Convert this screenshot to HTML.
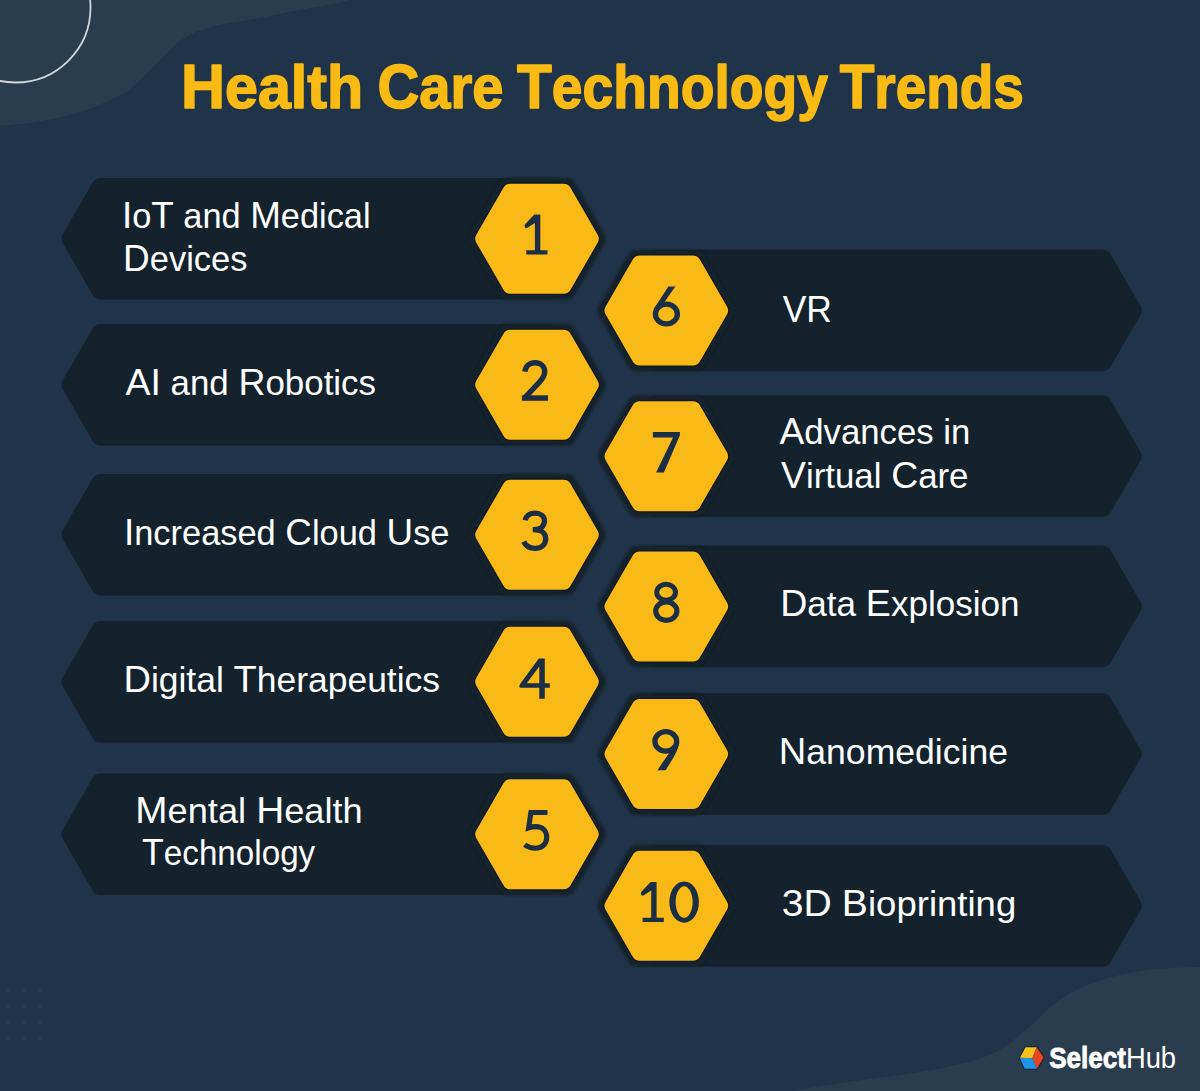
<!DOCTYPE html>
<html><head><meta charset="utf-8"><title>Health Care Technology Trends</title>
<style>
html,body{margin:0;padding:0;background:#1f3349;}
body{width:1200px;height:1091px;overflow:hidden;}
svg{display:block;font-family:"Liberation Sans",sans-serif;}
</style></head><body>
<svg width="1200" height="1091" viewBox="0 0 1200 1091">
<rect width="1200" height="1091" fill="#1f3349"/>
<path d="M0.00 125.80 C5.55 125.25 22.18 124.17 33.30 122.50 C44.42 120.83 56.97 118.17 66.70 115.80 C76.43 113.43 84.48 110.93 91.70 108.30 C98.92 105.67 104.17 102.80 110.00 100.00 C115.83 97.20 121.70 94.83 126.70 91.50 C131.70 88.17 135.57 84.13 140.00 80.00 C144.43 75.87 149.13 70.87 153.30 66.70 C157.47 62.53 161.67 58.33 165.00 55.00 C168.33 51.67 170.52 49.20 173.30 46.70 C176.08 44.20 178.92 41.95 181.70 40.00 C184.48 38.05 187.23 36.53 190.00 35.00 C192.77 33.47 195.52 31.92 198.30 30.80 C201.08 29.68 203.92 29.13 206.70 28.30 C209.48 27.47 211.53 26.63 215.00 25.80 C218.47 24.97 223.33 24.05 227.50 23.30 C231.67 22.55 235.83 21.97 240.00 21.30 C244.17 20.63 248.33 20.02 252.50 19.30 C256.67 18.58 260.08 17.97 265.00 17.00 C269.92 16.03 276.17 14.67 282.00 13.50 C287.83 12.33 292.00 11.50 300.00 10.00 C308.00 8.50 320.67 6.33 330.00 4.50 C339.33 2.67 351.67 -0.08 356.00 -1.00 L0 0 Z" fill="#293d4f"/>
<circle cx="15.5" cy="7.5" r="75" fill="none" stroke="#d0d8df" stroke-width="1.8"/>
<path d="M1200.00 966.70 C1194.45 966.97 1176.42 967.62 1166.70 968.30 C1156.98 968.98 1150.03 969.55 1141.70 970.80 C1133.37 972.05 1124.20 973.98 1116.70 975.80 C1109.20 977.62 1102.82 979.62 1096.70 981.70 C1090.58 983.78 1085.00 985.95 1080.00 988.30 C1075.00 990.65 1070.87 993.30 1066.70 995.80 C1062.53 998.30 1058.62 1000.65 1055.00 1003.30 C1051.38 1005.95 1048.05 1008.92 1045.00 1011.70 C1041.95 1014.48 1039.48 1017.32 1036.70 1020.00 C1033.92 1022.68 1030.92 1025.47 1028.30 1027.80 C1025.68 1030.13 1024.13 1031.38 1021.00 1034.00 C1017.87 1036.62 1013.42 1040.67 1009.50 1043.50 C1005.58 1046.33 1001.75 1048.75 997.50 1051.00 C993.25 1053.25 989.00 1055.12 984.00 1057.00 C979.00 1058.88 974.00 1060.50 967.50 1062.25 C961.00 1064.00 952.50 1066.00 945.00 1067.50 C937.50 1069.00 930.00 1070.00 922.50 1071.25 C915.00 1072.50 907.50 1073.88 900.00 1075.00 C892.50 1076.12 885.00 1077.00 877.50 1078.00 C870.00 1079.00 861.25 1080.12 855.00 1081.00 C848.75 1081.88 845.55 1082.42 840.00 1083.25 C834.45 1084.08 828.23 1084.97 821.70 1086.00 C815.17 1087.03 806.08 1088.48 800.80 1089.40 C795.52 1090.32 791.80 1091.15 790.00 1091.50 L1200 1091.5 Z" fill="#293d4f"/>
<circle cx="8" cy="990" r="2.5" fill="#2a4255" opacity="0.5"/>
<circle cx="24" cy="990" r="2.5" fill="#2a4255" opacity="0.5"/>
<circle cx="40" cy="990" r="2.5" fill="#2a4255" opacity="0.5"/>
<circle cx="8" cy="1006" r="2.5" fill="#2a4255" opacity="0.5"/>
<circle cx="24" cy="1006" r="2.5" fill="#2a4255" opacity="0.5"/>
<circle cx="40" cy="1006" r="2.5" fill="#2a4255" opacity="0.5"/>
<circle cx="8" cy="1022" r="2.5" fill="#2a4255" opacity="0.5"/>
<circle cx="24" cy="1022" r="2.5" fill="#2a4255" opacity="0.5"/>
<circle cx="40" cy="1022" r="2.5" fill="#2a4255" opacity="0.5"/>
<circle cx="8" cy="1038" r="2.5" fill="#2a4255" opacity="0.5"/>
<circle cx="24" cy="1038" r="2.5" fill="#2a4255" opacity="0.5"/>
<circle cx="40" cy="1038" r="2.5" fill="#2a4255" opacity="0.5"/>
<defs><filter id="sh" x="-20%" y="-20%" width="140%" height="140%"><feGaussianBlur stdDeviation="1.00"/></filter></defs>
<path d="M62.80 243.20A9.00 9.00 0 0 1 62.80 234.20L92.68 182.45A9.00 9.00 0 0 1 100.47 177.95L548.00 177.95A9.00 9.00 0 0 1 557.00 186.95L557.00 290.45A9.00 9.00 0 0 1 548.00 299.45L100.47 299.45A9.00 9.00 0 0 1 92.68 294.95Z" fill="#13222c"/>
<path d="M469.89 243.70A10.00 10.00 0 0 1 469.89 233.70L499.19 182.95A10.00 10.00 0 0 1 507.85 177.95L566.15 177.95A10.00 10.00 0 0 1 574.81 182.95L604.11 233.70A10.00 10.00 0 0 1 604.11 243.70L574.81 294.45A10.00 10.00 0 0 1 566.15 299.45L507.85 299.45A10.00 10.00 0 0 1 499.19 294.45Z" fill="#12212a" filter="url(#sh)"/>
<path d="M62.80 389.20A9.00 9.00 0 0 1 62.80 380.20L92.68 328.45A9.00 9.00 0 0 1 100.47 323.95L548.00 323.95A9.00 9.00 0 0 1 557.00 332.95L557.00 436.45A9.00 9.00 0 0 1 548.00 445.45L100.47 445.45A9.00 9.00 0 0 1 92.68 440.95Z" fill="#13222c"/>
<path d="M469.89 389.70A10.00 10.00 0 0 1 469.89 379.70L499.19 328.95A10.00 10.00 0 0 1 507.85 323.95L566.15 323.95A10.00 10.00 0 0 1 574.81 328.95L604.11 379.70A10.00 10.00 0 0 1 604.11 389.70L574.81 440.45A10.00 10.00 0 0 1 566.15 445.45L507.85 445.45A10.00 10.00 0 0 1 499.19 440.45Z" fill="#12212a" filter="url(#sh)"/>
<path d="M62.80 539.20A9.00 9.00 0 0 1 62.80 530.20L92.68 478.45A9.00 9.00 0 0 1 100.47 473.95L548.00 473.95A9.00 9.00 0 0 1 557.00 482.95L557.00 586.45A9.00 9.00 0 0 1 548.00 595.45L100.47 595.45A9.00 9.00 0 0 1 92.68 590.95Z" fill="#13222c"/>
<path d="M469.89 539.70A10.00 10.00 0 0 1 469.89 529.70L499.19 478.95A10.00 10.00 0 0 1 507.85 473.95L566.15 473.95A10.00 10.00 0 0 1 574.81 478.95L604.11 529.70A10.00 10.00 0 0 1 604.11 539.70L574.81 590.45A10.00 10.00 0 0 1 566.15 595.45L507.85 595.45A10.00 10.00 0 0 1 499.19 590.45Z" fill="#12212a" filter="url(#sh)"/>
<path d="M62.80 686.30A9.00 9.00 0 0 1 62.80 677.30L92.68 625.55A9.00 9.00 0 0 1 100.47 621.05L548.00 621.05A9.00 9.00 0 0 1 557.00 630.05L557.00 733.55A9.00 9.00 0 0 1 548.00 742.55L100.47 742.55A9.00 9.00 0 0 1 92.68 738.05Z" fill="#13222c"/>
<path d="M469.89 686.80A10.00 10.00 0 0 1 469.89 676.80L499.19 626.05A10.00 10.00 0 0 1 507.85 621.05L566.15 621.05A10.00 10.00 0 0 1 574.81 626.05L604.11 676.80A10.00 10.00 0 0 1 604.11 686.80L574.81 737.55A10.00 10.00 0 0 1 566.15 742.55L507.85 742.55A10.00 10.00 0 0 1 499.19 737.55Z" fill="#12212a" filter="url(#sh)"/>
<path d="M62.80 838.70A9.00 9.00 0 0 1 62.80 829.70L92.68 777.95A9.00 9.00 0 0 1 100.47 773.45L548.00 773.45A9.00 9.00 0 0 1 557.00 782.45L557.00 885.95A9.00 9.00 0 0 1 548.00 894.95L100.47 894.95A9.00 9.00 0 0 1 92.68 890.45Z" fill="#13222c"/>
<path d="M469.89 839.20A10.00 10.00 0 0 1 469.89 829.20L499.19 778.45A10.00 10.00 0 0 1 507.85 773.45L566.15 773.45A10.00 10.00 0 0 1 574.81 778.45L604.11 829.20A10.00 10.00 0 0 1 604.11 839.20L574.81 889.95A10.00 10.00 0 0 1 566.15 894.95L507.85 894.95A10.00 10.00 0 0 1 499.19 889.95Z" fill="#12212a" filter="url(#sh)"/>
<path d="M646.30 258.75A9.00 9.00 0 0 1 655.30 249.75L1102.73 249.75A9.00 9.00 0 0 1 1110.52 254.25L1140.40 306.00A9.00 9.00 0 0 1 1140.40 315.00L1110.52 366.75A9.00 9.00 0 0 1 1102.73 371.25L655.30 371.25A9.00 9.00 0 0 1 646.30 362.25Z" fill="#13222c"/>
<path d="M599.19 315.50A10.00 10.00 0 0 1 599.19 305.50L628.49 254.75A10.00 10.00 0 0 1 637.15 249.75L695.45 249.75A10.00 10.00 0 0 1 704.11 254.75L733.41 305.50A10.00 10.00 0 0 1 733.41 315.50L704.11 366.25A10.00 10.00 0 0 1 695.45 371.25L637.15 371.25A10.00 10.00 0 0 1 628.49 366.25Z" fill="#12212a" filter="url(#sh)"/>
<path d="M646.30 404.45A9.00 9.00 0 0 1 655.30 395.45L1102.73 395.45A9.00 9.00 0 0 1 1110.52 399.95L1140.40 451.70A9.00 9.00 0 0 1 1140.40 460.70L1110.52 512.45A9.00 9.00 0 0 1 1102.73 516.95L655.30 516.95A9.00 9.00 0 0 1 646.30 507.95Z" fill="#13222c"/>
<path d="M599.19 461.20A10.00 10.00 0 0 1 599.19 451.20L628.49 400.45A10.00 10.00 0 0 1 637.15 395.45L695.45 395.45A10.00 10.00 0 0 1 704.11 400.45L733.41 451.20A10.00 10.00 0 0 1 733.41 461.20L704.11 511.95A10.00 10.00 0 0 1 695.45 516.95L637.15 516.95A10.00 10.00 0 0 1 628.49 511.95Z" fill="#12212a" filter="url(#sh)"/>
<path d="M646.30 554.65A9.00 9.00 0 0 1 655.30 545.65L1102.73 545.65A9.00 9.00 0 0 1 1110.52 550.15L1140.40 601.90A9.00 9.00 0 0 1 1140.40 610.90L1110.52 662.65A9.00 9.00 0 0 1 1102.73 667.15L655.30 667.15A9.00 9.00 0 0 1 646.30 658.15Z" fill="#13222c"/>
<path d="M599.19 611.40A10.00 10.00 0 0 1 599.19 601.40L628.49 550.65A10.00 10.00 0 0 1 637.15 545.65L695.45 545.65A10.00 10.00 0 0 1 704.11 550.65L733.41 601.40A10.00 10.00 0 0 1 733.41 611.40L704.11 662.15A10.00 10.00 0 0 1 695.45 667.15L637.15 667.15A10.00 10.00 0 0 1 628.49 662.15Z" fill="#12212a" filter="url(#sh)"/>
<path d="M646.30 702.25A9.00 9.00 0 0 1 655.30 693.25L1102.73 693.25A9.00 9.00 0 0 1 1110.52 697.75L1140.40 749.50A9.00 9.00 0 0 1 1140.40 758.50L1110.52 810.25A9.00 9.00 0 0 1 1102.73 814.75L655.30 814.75A9.00 9.00 0 0 1 646.30 805.75Z" fill="#13222c"/>
<path d="M599.19 759.00A10.00 10.00 0 0 1 599.19 749.00L628.49 698.25A10.00 10.00 0 0 1 637.15 693.25L695.45 693.25A10.00 10.00 0 0 1 704.11 698.25L733.41 749.00A10.00 10.00 0 0 1 733.41 759.00L704.11 809.75A10.00 10.00 0 0 1 695.45 814.75L637.15 814.75A10.00 10.00 0 0 1 628.49 809.75Z" fill="#12212a" filter="url(#sh)"/>
<path d="M646.30 854.05A9.00 9.00 0 0 1 655.30 845.05L1102.73 845.05A9.00 9.00 0 0 1 1110.52 849.55L1140.40 901.30A9.00 9.00 0 0 1 1140.40 910.30L1110.52 962.05A9.00 9.00 0 0 1 1102.73 966.55L655.30 966.55A9.00 9.00 0 0 1 646.30 957.55Z" fill="#13222c"/>
<path d="M599.19 910.80A10.00 10.00 0 0 1 599.19 900.80L628.49 850.05A10.00 10.00 0 0 1 637.15 845.05L695.45 845.05A10.00 10.00 0 0 1 704.11 850.05L733.41 900.80A10.00 10.00 0 0 1 733.41 910.80L704.11 961.55A10.00 10.00 0 0 1 695.45 966.55L637.15 966.55A10.00 10.00 0 0 1 628.49 961.55Z" fill="#12212a" filter="url(#sh)"/>
<path d="M475.45 243.20A9.00 9.00 0 0 1 475.45 234.20L502.58 187.20A9.00 9.00 0 0 1 510.38 182.70L563.62 182.70A9.00 9.00 0 0 1 571.42 187.20L598.55 234.20A9.00 9.00 0 0 1 598.55 243.20L571.42 290.20A9.00 9.00 0 0 1 563.62 294.70L510.38 294.70A9.00 9.00 0 0 1 502.58 290.20Z" fill="#0a1319" opacity="0.75"/>
<path d="M475.45 389.20A9.00 9.00 0 0 1 475.45 380.20L502.58 333.20A9.00 9.00 0 0 1 510.38 328.70L563.62 328.70A9.00 9.00 0 0 1 571.42 333.20L598.55 380.20A9.00 9.00 0 0 1 598.55 389.20L571.42 436.20A9.00 9.00 0 0 1 563.62 440.70L510.38 440.70A9.00 9.00 0 0 1 502.58 436.20Z" fill="#0a1319" opacity="0.75"/>
<path d="M475.45 539.20A9.00 9.00 0 0 1 475.45 530.20L502.58 483.20A9.00 9.00 0 0 1 510.38 478.70L563.62 478.70A9.00 9.00 0 0 1 571.42 483.20L598.55 530.20A9.00 9.00 0 0 1 598.55 539.20L571.42 586.20A9.00 9.00 0 0 1 563.62 590.70L510.38 590.70A9.00 9.00 0 0 1 502.58 586.20Z" fill="#0a1319" opacity="0.75"/>
<path d="M475.45 686.30A9.00 9.00 0 0 1 475.45 677.30L502.58 630.30A9.00 9.00 0 0 1 510.38 625.80L563.62 625.80A9.00 9.00 0 0 1 571.42 630.30L598.55 677.30A9.00 9.00 0 0 1 598.55 686.30L571.42 733.30A9.00 9.00 0 0 1 563.62 737.80L510.38 737.80A9.00 9.00 0 0 1 502.58 733.30Z" fill="#0a1319" opacity="0.75"/>
<path d="M475.45 838.70A9.00 9.00 0 0 1 475.45 829.70L502.58 782.70A9.00 9.00 0 0 1 510.38 778.20L563.62 778.20A9.00 9.00 0 0 1 571.42 782.70L598.55 829.70A9.00 9.00 0 0 1 598.55 838.70L571.42 885.70A9.00 9.00 0 0 1 563.62 890.20L510.38 890.20A9.00 9.00 0 0 1 502.58 885.70Z" fill="#0a1319" opacity="0.75"/>
<path d="M604.75 315.00A9.00 9.00 0 0 1 604.75 306.00L631.88 259.00A9.00 9.00 0 0 1 639.68 254.50L692.92 254.50A9.00 9.00 0 0 1 700.72 259.00L727.85 306.00A9.00 9.00 0 0 1 727.85 315.00L700.72 362.00A9.00 9.00 0 0 1 692.92 366.50L639.68 366.50A9.00 9.00 0 0 1 631.88 362.00Z" fill="#0a1319" opacity="0.75"/>
<path d="M604.75 460.70A9.00 9.00 0 0 1 604.75 451.70L631.88 404.70A9.00 9.00 0 0 1 639.68 400.20L692.92 400.20A9.00 9.00 0 0 1 700.72 404.70L727.85 451.70A9.00 9.00 0 0 1 727.85 460.70L700.72 507.70A9.00 9.00 0 0 1 692.92 512.20L639.68 512.20A9.00 9.00 0 0 1 631.88 507.70Z" fill="#0a1319" opacity="0.75"/>
<path d="M604.75 610.90A9.00 9.00 0 0 1 604.75 601.90L631.88 554.90A9.00 9.00 0 0 1 639.68 550.40L692.92 550.40A9.00 9.00 0 0 1 700.72 554.90L727.85 601.90A9.00 9.00 0 0 1 727.85 610.90L700.72 657.90A9.00 9.00 0 0 1 692.92 662.40L639.68 662.40A9.00 9.00 0 0 1 631.88 657.90Z" fill="#0a1319" opacity="0.75"/>
<path d="M604.75 758.50A9.00 9.00 0 0 1 604.75 749.50L631.88 702.50A9.00 9.00 0 0 1 639.68 698.00L692.92 698.00A9.00 9.00 0 0 1 700.72 702.50L727.85 749.50A9.00 9.00 0 0 1 727.85 758.50L700.72 805.50A9.00 9.00 0 0 1 692.92 810.00L639.68 810.00A9.00 9.00 0 0 1 631.88 805.50Z" fill="#0a1319" opacity="0.75"/>
<path d="M604.75 910.30A9.00 9.00 0 0 1 604.75 901.30L631.88 854.30A9.00 9.00 0 0 1 639.68 849.80L692.92 849.80A9.00 9.00 0 0 1 700.72 854.30L727.85 901.30A9.00 9.00 0 0 1 727.85 910.30L700.72 957.30A9.00 9.00 0 0 1 692.92 961.80L639.68 961.80A9.00 9.00 0 0 1 631.88 957.30Z" fill="#0a1319" opacity="0.75"/>
<path d="M476.31 242.70A8.00 8.00 0 0 1 476.31 234.70L503.44 187.70A8.00 8.00 0 0 1 510.37 183.70L563.63 183.70A8.00 8.00 0 0 1 570.56 187.70L597.69 234.70A8.00 8.00 0 0 1 597.69 242.70L570.56 289.70A8.00 8.00 0 0 1 563.63 293.70L510.37 293.70A8.00 8.00 0 0 1 503.44 289.70Z" fill="#f9b917"/>
<path d="M476.31 388.70A8.00 8.00 0 0 1 476.31 380.70L503.44 333.70A8.00 8.00 0 0 1 510.37 329.70L563.63 329.70A8.00 8.00 0 0 1 570.56 333.70L597.69 380.70A8.00 8.00 0 0 1 597.69 388.70L570.56 435.70A8.00 8.00 0 0 1 563.63 439.70L510.37 439.70A8.00 8.00 0 0 1 503.44 435.70Z" fill="#f9b917"/>
<path d="M476.31 538.70A8.00 8.00 0 0 1 476.31 530.70L503.44 483.70A8.00 8.00 0 0 1 510.37 479.70L563.63 479.70A8.00 8.00 0 0 1 570.56 483.70L597.69 530.70A8.00 8.00 0 0 1 597.69 538.70L570.56 585.70A8.00 8.00 0 0 1 563.63 589.70L510.37 589.70A8.00 8.00 0 0 1 503.44 585.70Z" fill="#f9b917"/>
<path d="M476.31 685.80A8.00 8.00 0 0 1 476.31 677.80L503.44 630.80A8.00 8.00 0 0 1 510.37 626.80L563.63 626.80A8.00 8.00 0 0 1 570.56 630.80L597.69 677.80A8.00 8.00 0 0 1 597.69 685.80L570.56 732.80A8.00 8.00 0 0 1 563.63 736.80L510.37 736.80A8.00 8.00 0 0 1 503.44 732.80Z" fill="#f9b917"/>
<path d="M476.31 838.20A8.00 8.00 0 0 1 476.31 830.20L503.44 783.20A8.00 8.00 0 0 1 510.37 779.20L563.63 779.20A8.00 8.00 0 0 1 570.56 783.20L597.69 830.20A8.00 8.00 0 0 1 597.69 838.20L570.56 885.20A8.00 8.00 0 0 1 563.63 889.20L510.37 889.20A8.00 8.00 0 0 1 503.44 885.20Z" fill="#f9b917"/>
<path d="M605.61 314.50A8.00 8.00 0 0 1 605.61 306.50L632.74 259.50A8.00 8.00 0 0 1 639.67 255.50L692.93 255.50A8.00 8.00 0 0 1 699.86 259.50L726.99 306.50A8.00 8.00 0 0 1 726.99 314.50L699.86 361.50A8.00 8.00 0 0 1 692.93 365.50L639.67 365.50A8.00 8.00 0 0 1 632.74 361.50Z" fill="#f9b917"/>
<path d="M605.61 460.20A8.00 8.00 0 0 1 605.61 452.20L632.74 405.20A8.00 8.00 0 0 1 639.67 401.20L692.93 401.20A8.00 8.00 0 0 1 699.86 405.20L726.99 452.20A8.00 8.00 0 0 1 726.99 460.20L699.86 507.20A8.00 8.00 0 0 1 692.93 511.20L639.67 511.20A8.00 8.00 0 0 1 632.74 507.20Z" fill="#f9b917"/>
<path d="M605.61 610.40A8.00 8.00 0 0 1 605.61 602.40L632.74 555.40A8.00 8.00 0 0 1 639.67 551.40L692.93 551.40A8.00 8.00 0 0 1 699.86 555.40L726.99 602.40A8.00 8.00 0 0 1 726.99 610.40L699.86 657.40A8.00 8.00 0 0 1 692.93 661.40L639.67 661.40A8.00 8.00 0 0 1 632.74 657.40Z" fill="#f9b917"/>
<path d="M605.61 758.00A8.00 8.00 0 0 1 605.61 750.00L632.74 703.00A8.00 8.00 0 0 1 639.67 699.00L692.93 699.00A8.00 8.00 0 0 1 699.86 703.00L726.99 750.00A8.00 8.00 0 0 1 726.99 758.00L699.86 805.00A8.00 8.00 0 0 1 692.93 809.00L639.67 809.00A8.00 8.00 0 0 1 632.74 805.00Z" fill="#f9b917"/>
<path d="M605.61 909.80A8.00 8.00 0 0 1 605.61 901.80L632.74 854.80A8.00 8.00 0 0 1 639.67 850.80L692.93 850.80A8.00 8.00 0 0 1 699.86 854.80L726.99 901.80A8.00 8.00 0 0 1 726.99 909.80L699.86 956.80A8.00 8.00 0 0 1 692.93 960.80L639.67 960.80A8.00 8.00 0 0 1 632.74 956.80Z" fill="#f9b917"/>
<g transform="translate(524.50 214.30)"><path d="M9.8 0.2 L15.8 0.2 L15.8 35.9 L23 35.9 L23 40.1 L1.8 40.1 L1.8 35.9 L10.4 35.9 L10.4 8.6 L2.5 13.7 Q0.8 14.3 0.1 12.4 Q-0.3 10.6 1.1 9.5 Z" fill="#1c2e44"/></g>
<g transform="translate(521.30 360.00)"><path d="M3.6 11.6 C4.2 5.8 8.3 2.7 13.6 2.7 C19.4 2.7 23.4 6.3 23.4 11.6 C23.4 15.8 21.2 19 17.7 22.7 L2.6 38.6" fill="none" stroke="#1c2e44" stroke-width="5.4"/><path d="M0.6 35.3 L26.7 35.3 L26.7 40.8 L0.6 40.8 Z" fill="#1c2e44"/></g>
<g transform="translate(521.30 510.40)"><path d="M3.8 9.9 C4.8 5.4 8.8 2.7 13.7 2.7 C19.3 2.7 23.2 5.9 23.2 10.4 C23.2 15.8 18.8 19.3 12.8 19.3 L11.4 19.3 M12.6 19.3 C19.8 19.3 24.4 22.6 24.4 28.3 C24.4 34.3 19.8 37.9 13.7 37.9 C8.3 37.9 4.2 35.3 2.4 31.2" fill="none" stroke="#1c2e44" stroke-width="5.3"/></g>
<g transform="translate(519.30 658.30)"><path d="M19.5 0.2 L25.5 0.2 L25.5 24.9 L30.5 24.9 L30.5 29.5 L25.5 29.5 L25.5 40.5 L20 40.5 L20 29.5 L1.4 29.5 Q0 29.5 0 28.1 Q0 26.9 0.8 25.8 Z M20 8.2 L20 24.9 L7.4 24.9 Z" fill="#1c2e44" fill-rule="evenodd"/></g>
<g transform="translate(522.70 810.00)"><path d="M24.8 2.55 L8.2 2.55 L5.9 17.9 C8.6 16.9 10.8 16.6 13.3 16.6 C19.8 16.6 24 20.8 24 27.3 C24 33.8 19.5 38.2 13 38.2 C8.6 38.2 4.8 36.8 1.9 34.7" fill="none" stroke="#1c2e44" stroke-width="5.1" stroke-linejoin="miter" stroke-miterlimit="8"/></g>
<g transform="translate(652.70 286.00)"><path d="M15.7 0.5 L22.6 0.5 L8.6 20.5 L1.4 22.5 Z" fill="#1c2e44"/><ellipse cx="13.7" cy="28" rx="11" ry="9.9" fill="none" stroke="#1c2e44" stroke-width="5.3"/></g>
<g transform="translate(652.00 431.70)"><path d="M0.9 0.3 L27.9 0.3 L27.9 3.6 L11.9 40.7 L4.1 40.7 L21 5.8 L0.9 5.8 Z" fill="#1c2e44"/></g>
<g transform="translate(652.40 582.00)"><ellipse cx="13.7" cy="10.3" rx="9.4" ry="8.0" fill="none" stroke="#1c2e44" stroke-width="5.0"/><ellipse cx="13.9" cy="29.1" rx="10.6" ry="9.2" fill="none" stroke="#1c2e44" stroke-width="5.2"/></g>
<g transform="translate(652.00 729.70)"><ellipse cx="13.8" cy="11.7" rx="10.9" ry="9.8" fill="none" stroke="#1c2e44" stroke-width="5.3"/><path d="M27 11.5 C27 17 24.5 23 19 31.9 L13.6 40.6 L5.4 40.6 L11.6 31.3 L21.4 17.2 Z" fill="#1c2e44"/></g>
<g transform="translate(640.80 881.80)"><path d="M9.8 0.2 L15.8 0.2 L15.8 35.9 L23 35.9 L23 40.1 L1.8 40.1 L1.8 35.9 L10.4 35.9 L10.4 8.6 L2.5 13.7 Q0.8 14.3 0.1 12.4 Q-0.3 10.6 1.1 9.5 Z" fill="#1c2e44"/></g>
<g transform="translate(669.40 881.50)"><path d="M14.75 0 C23 0 29.5 9 29.5 20.6 C29.5 32.2 23 41.2 14.75 41.2 C6.5 41.2 0 32.2 0 20.6 C0 9 6.5 0 14.75 0 Z M14.75 4.7 C10.2 4.7 6.25 11.5 6.25 20.6 C6.25 29.7 10.2 36.5 14.75 36.5 C19.3 36.5 23.25 29.7 23.25 20.6 C23.25 11.5 19.3 4.7 14.75 4.7 Z" fill="#1c2e44" fill-rule="evenodd"/></g>
<text x="121.97" y="227.50" font-size="35.0" fill="#ffffff" textLength="248.56" lengthAdjust="spacingAndGlyphs"><tspan font-size="37.5">I</tspan>o<tspan font-size="37.5">T</tspan> and <tspan font-size="37.5">M</tspan>edical</text>
<text x="123.00" y="270.50" font-size="35.0" fill="#ffffff" textLength="124.52" lengthAdjust="spacingAndGlyphs"><tspan font-size="37.5">D</tspan>evices</text>
<text x="125.49" y="395.00" font-size="35.0" fill="#ffffff" textLength="250.51" lengthAdjust="spacingAndGlyphs"><tspan font-size="37.5">A</tspan><tspan font-size="37.5">I</tspan> and <tspan font-size="37.5">R</tspan>obotics</text>
<text x="123.98" y="545.00" font-size="35.0" fill="#ffffff" textLength="325.54" lengthAdjust="spacingAndGlyphs"><tspan font-size="37.5">I</tspan>ncreased <tspan font-size="37.5">C</tspan>loud <tspan font-size="37.5">U</tspan>se</text>
<text x="123.48" y="692.00" font-size="35.0" fill="#ffffff" textLength="316.53" lengthAdjust="spacingAndGlyphs"><tspan font-size="37.5">D</tspan>igital <tspan font-size="37.5">T</tspan>herapeutics</text>
<text x="135.26" y="823.20" font-size="35.0" fill="#ffffff" textLength="227.46" lengthAdjust="spacingAndGlyphs"><tspan font-size="37.5">M</tspan>ental <tspan font-size="37.5">H</tspan>ealth</text>
<text x="142.11" y="865.00" font-size="35.0" fill="#ffffff" textLength="173.09" lengthAdjust="spacingAndGlyphs"><tspan font-size="37.5">T</tspan>echnology</text>
<text x="782.68" y="321.50" font-size="35.0" fill="#ffffff" textLength="49.26" lengthAdjust="spacingAndGlyphs"><tspan font-size="37.5">V</tspan><tspan font-size="37.5">R</tspan></text>
<text x="779.49" y="444.20" font-size="35.0" fill="#ffffff" textLength="190.81" lengthAdjust="spacingAndGlyphs"><tspan font-size="37.5">A</tspan>dvances in</text>
<text x="781.01" y="487.80" font-size="35.0" fill="#ffffff" textLength="187.50" lengthAdjust="spacingAndGlyphs"><tspan font-size="37.5">V</tspan>irtual <tspan font-size="37.5">C</tspan>are</text>
<text x="780.16" y="616.00" font-size="35.0" fill="#ffffff" textLength="239.47" lengthAdjust="spacingAndGlyphs"><tspan font-size="37.5">D</tspan>ata <tspan font-size="37.5">E</tspan>xplosion</text>
<text x="778.77" y="764.30" font-size="35.0" fill="#ffffff" textLength="229.24" lengthAdjust="spacingAndGlyphs"><tspan font-size="37.5">N</tspan>anomedicine</text>
<text x="781.69" y="915.50" font-size="35.0" fill="#ffffff" textLength="234.51" lengthAdjust="spacingAndGlyphs"><tspan font-size="37.5">3</tspan><tspan font-size="37.5">D</tspan> <tspan font-size="37.5">B</tspan>ioprinting</text>
<text x="180.99" y="108.00" font-size="61.5" font-weight="bold" fill="#f9ba14" stroke="#f9ba14" stroke-width="1.6" stroke-linejoin="round" textLength="182.02" lengthAdjust="spacingAndGlyphs"><tspan font-size="63.5">H</tspan>ealth</text>
<text x="377.55" y="108.00" font-size="61.5" font-weight="bold" fill="#f9ba14" stroke="#f9ba14" stroke-width="1.6" stroke-linejoin="round" textLength="125.91" lengthAdjust="spacingAndGlyphs"><tspan font-size="63.5">C</tspan>are</text>
<text x="517.01" y="108.00" font-size="61.5" font-weight="bold" fill="#f9ba14" stroke="#f9ba14" stroke-width="1.6" stroke-linejoin="round" textLength="310.97" lengthAdjust="spacingAndGlyphs"><tspan font-size="63.5">T</tspan>echnology</text>
<text x="839.63" y="108.00" font-size="61.5" font-weight="bold" fill="#f9ba14" stroke="#f9ba14" stroke-width="1.6" stroke-linejoin="round" textLength="184.27" lengthAdjust="spacingAndGlyphs"><tspan font-size="63.5">T</tspan>rends</text>
<polygon points="1020.0,1057.8 1025.5,1047.2 1036.7,1047.2 1043.6,1057.4 1037.0,1068.7 1024.6,1068.7" fill="#17212c" stroke="#17212c" stroke-width="2.2" stroke-linejoin="round" opacity="0.8"/>
<polygon points="1020.0,1057.8 1025.5,1047.2 1036.7,1047.2 1032.3,1058.2" fill="#f7c21a"/>
<polygon points="1036.7,1047.2 1043.6,1057.4 1037.0,1068.7 1032.3,1058.2" fill="#e84524"/>
<polygon points="1020.0,1057.8 1032.3,1058.2 1037.0,1068.7 1024.6,1068.7" fill="#1e96e6"/>
<text x="1049.20" y="1068.1" font-size="30" font-weight="bold" stroke="#ffffff" stroke-width="0.8" fill="#ffffff" textLength="76.80" lengthAdjust="spacingAndGlyphs">Select</text>
<text x="1125.93" y="1068.1" font-size="30" fill="#ffffff" textLength="50.14" lengthAdjust="spacingAndGlyphs">Hub</text>
</svg>
</body></html>
